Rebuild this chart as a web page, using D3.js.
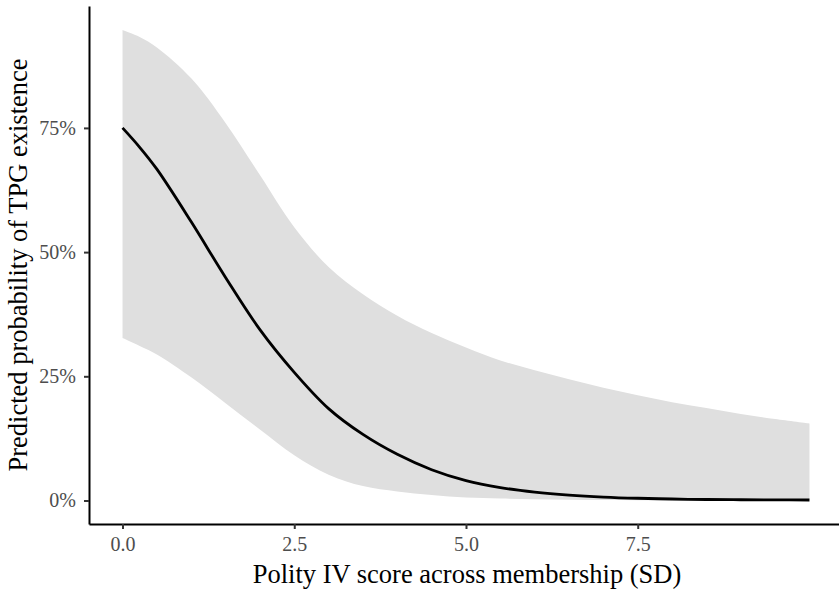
<!DOCTYPE html>
<html>
<head>
<meta charset="utf-8">
<script src="https://cdn.jsdelivr.net/npm/d3@7"></script>
<style>
  html, body { margin: 0; padding: 0; background: #ffffff; }
  svg { display: block; }
</style>
</head>
<body>
<svg id="chart" width="839" height="591"></svg>
<script>
// ---- data ----
const xValues     = [0, 0.25, 0.5, 1.0, 1.5, 2.0, 2.5, 3.0, 3.5, 4.0, 4.5, 5.0, 5.5, 6.0, 6.5, 7.0, 7.5, 8.0, 8.5, 9.0, 9.5, 10.0];
const fitValues   = [0.750, 0.711, 0.667, 0.561, 0.449, 0.344, 0.258, 0.185, 0.133, 0.093, 0.062, 0.040, 0.026, 0.017, 0.011, 0.007, 0.0045, 0.003, 0.002, 0.0015, 0.0012, 0.001];
const lowerValues = [0.327, 0.311, 0.294, 0.248, 0.196, 0.143, 0.091, 0.052, 0.029, 0.018, 0.011, 0.006, 0.004, 0.0025, 0.0015, 0.001, 0.0007, 0.0005, 0.0003, 0.0002, 0.0001, 0.0001];
const upperValues = [0.947, 0.933, 0.912, 0.850, 0.760, 0.655, 0.550, 0.470, 0.415, 0.372, 0.337, 0.308, 0.282, 0.262, 0.244, 0.227, 0.212, 0.198, 0.186, 0.174, 0.164, 0.155];
const xTickValues = [0, 2.5, 5.0, 7.5];
const yTickValues = [0, 0.25, 0.50, 0.75];
const xTitle = "Polity IV score across membership (SD)";
const yTitle = "Predicted probability of TPG existence";

const rows = xValues.map((x, i) => ({ x, fit: fitValues[i], lo: lowerValues[i], hi: upperValues[i] }));

const svg = d3.select("#chart");
const FONT = "'Liberation Serif', 'Times New Roman', serif";

const x = d3.scaleLinear().domain([-0.488, 10.43]).range([89, 839]);
const y = d3.scaleLinear().domain([-0.0473, 0.9954]).range([524, 6]);

const curve = d3.curveCatmullRom.alpha(0.5);

// ribbon
const area = d3.area()
  .x(d => x(d.x))
  .y0(d => y(d.lo))
  .y1(d => y(d.hi))
  .curve(curve);
svg.append("path").datum(rows)
  .attr("d", area)
  .attr("fill", "#dfdfdf");

// fitted line
const line = d3.line()
  .x(d => x(d.x))
  .y(d => y(d.fit))
  .curve(curve);
svg.append("path").datum(rows)
  .attr("d", line)
  .attr("fill", "none")
  .attr("stroke", "#000")
  .attr("stroke-width", 2.8)
  .attr("stroke-linejoin", "round");

// x axis
const xAxis = d3.axisBottom(x)
  .tickValues(xTickValues)
  .tickFormat(d3.format(".1f"))
  .tickSize(5)
  .tickPadding(8)
  .tickSizeOuter(0);
const gx = svg.append("g").attr("transform", "translate(0,524)").call(xAxis);
gx.select(".domain").attr("stroke", "#000").attr("stroke-width", 2);
gx.selectAll(".tick line").attr("stroke", "#333").attr("stroke-width", 2);
gx.selectAll(".tick text")
  .attr("fill", "#4d4d4d")
  .style("font-family", FONT)
  .style("font-size", "20px");

// y axis
const yAxis = d3.axisLeft(y)
  .tickValues(yTickValues)
  .tickFormat(d3.format(".0%"))
  .tickSize(5)
  .tickPadding(8)
  .tickSizeOuter(0);
const gy = svg.append("g").attr("transform", "translate(89,0)").call(yAxis);
gy.select(".domain").attr("stroke", "#000").attr("stroke-width", 2);
gy.selectAll(".tick line").attr("stroke", "#333").attr("stroke-width", 2);
gy.selectAll(".tick text")
  .attr("fill", "#4d4d4d")
  .style("font-family", FONT)
  .style("font-size", "20px");

// titles
svg.append("text")
  .attr("x", (x(-0.488) + 839) / 2 + 3)
  .attr("y", 583)
  .attr("text-anchor", "middle")
  .style("font-family", FONT)
  .style("font-size", "26.5px")
  .attr("fill", "#000")
  .text(xTitle);

svg.append("text")
  .attr("transform", `translate(27,${(6 + 524) / 2}) rotate(-90)`)
  .attr("text-anchor", "middle")
  .style("font-family", FONT)
  .style("font-size", "26.5px")
  .attr("fill", "#000")
  .text(yTitle);
</script>
</body>
</html>
